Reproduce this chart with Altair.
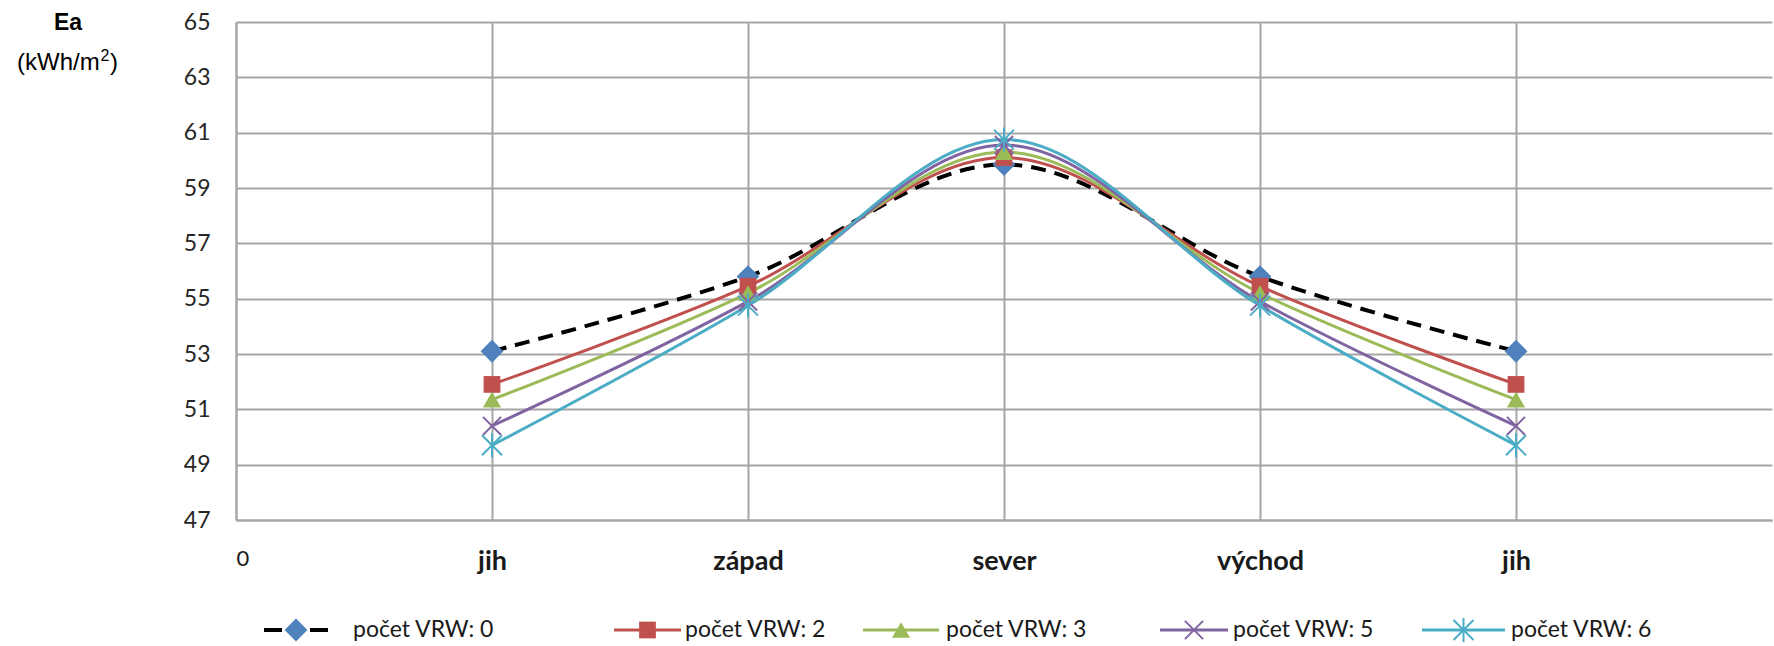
import json
import altair as alt
import pandas as pd

# ---- data ----
categories = ["jih", "západ", "sever", "východ", "jih"]
series_names = ["počet VRW: 0", "počet VRW: 2", "počet VRW: 3", "počet VRW: 5", "počet VRW: 6"]
vrw0 = [53.1, 55.8, 59.85, 55.8, 53.1]
vrw2 = [51.9, 55.45, 60.1, 55.45, 51.9]
vrw3 = [51.35, 55.2, 60.3, 55.2, 51.35]
vrw5 = [50.4, 54.9, 60.55, 54.9, 50.4]
vrw6 = [49.7, 54.75, 60.75, 54.75, 49.7]
series_values = [vrw0, vrw2, vrw3, vrw5, vrw6]
y_ticks = list(range(47, 66, 2))
x_tick_labels = ["0"] + categories

# ---- styles ----
line_colors = ["#000000", "#C0504D", "#9BBB59", "#8064A2", "#4BACC6"]
marker_colors = ["#4F81BD", "#C0504D", "#9BBB59", "#8064A2", "#4BACC6"]
x_path = "M-1,-1L1,1M-1,1L1,-1"
ast_path = "M-1,-1L1,1M-1,1L1,-1M0,-1.2L0,1.2"
marker_shapes = ["diamond", "square", "triangle-up", x_path, ast_path]
marker_sizes = [520, 280, 330, 330, 400]
marker_filled = [True, True, True, False, False]

rows = []
for name, vals in zip(series_names, series_values):
    for i, (c, v) in enumerate(zip(categories, vals)):
        rows.append({"series": name, "pos": i + 1, "category": c, "value": v})
df = pd.DataFrame(rows)
one = pd.DataFrame({"dummy": [0]})  # single row for annotation marks

FONT = "Lato"
label_expr = json.dumps(x_tick_labels) + "[datum.value]"

x_enc = alt.X(
    "pos:Q",
    scale=alt.Scale(domain=[0, 6], nice=False, zero=False),
    axis=alt.Axis(
        values=list(range(0, 6)),
        labelExpr=label_expr,
        title=None,
        ticks=False,
        grid=True,
        labelFont=FONT,
        labelFontSize={"condition": {"test": "datum.value == 0", "value": 22}, "value": 27},
        labelFontWeight={"condition": {"test": "datum.value == 0", "value": "normal"}, "value": "bold"},
        labelColor="#1a1a1a",
        labelPadding=28,
    ),
)
y_enc = alt.Y(
    "value:Q",
    scale=alt.Scale(domain=[47, 65], nice=False, zero=False),
    axis=alt.Axis(
        values=y_ticks,
        title=None,
        ticks=False,
        grid=True,
        labelFont=FONT,
        labelFontSize=23,
        labelColor="#262626",
        labelPadding=26,
    ),
)

layers = []
for k, name in enumerate(series_names):
    d = df[df["series"] == name]
    base = alt.Chart(d)
    if k == 0:
        line = base.mark_line(interpolate="catmull-rom", color=line_colors[k],
                              strokeWidth=4, strokeDash=[15, 9])
    else:
        line = base.mark_line(interpolate="catmull-rom", color=line_colors[k], strokeWidth=3)
    layers.append(line.encode(x=x_enc, y=y_enc))

for k, name in enumerate(series_names):
    d = df[df["series"] == name]
    base = alt.Chart(d)
    if marker_filled[k]:
        pt = base.mark_point(shape=marker_shapes[k], size=marker_sizes[k], filled=True,
                             color=marker_colors[k], opacity=1)
    else:
        pt = base.mark_point(shape=marker_shapes[k], size=marker_sizes[k], filled=False,
                             color=marker_colors[k], strokeWidth=2, opacity=1)
    layers.append(pt.encode(x=x_enc, y=y_enc))

# ---- y axis title: "Ea" and "(kWh/m2)" with a real superscript ----
TFONT = "Liberation Sans"
layers.append(alt.Chart(one).mark_text(text="Ea", font=TFONT, fontWeight="bold",
                                       fontSize=23, color="#000000")
              .encode(x=alt.value(-168), y=alt.value(1)))
unit_left = -219
layers.append(alt.Chart(one).mark_text(text="(kWh/m", font=TFONT, fontSize=24, align="left",
                                       color="#000000")
              .encode(x=alt.value(unit_left), y=alt.value(41)))
layers.append(alt.Chart(one).mark_text(text="2", font=TFONT, fontSize=16, align="left",
                                       color="#000000")
              .encode(x=alt.value(unit_left + 83.5), y=alt.value(34)))
layers.append(alt.Chart(one).mark_text(text=")", font=TFONT, fontSize=24, align="left",
                                       color="#000000")
              .encode(x=alt.value(unit_left + 93), y=alt.value(41)))

# ---- legend (layout positions relative to plot area) ----
legend_y = 608
legend_layout = [  # (line start, line end, text start)
    (28, 92, 117),
    (378, 445, 449),
    (627, 703, 710),
    (924, 992, 997),
    (1186, 1269, 1275),
]
for k, name in enumerate(series_names):
    a, b, t = legend_layout[k]
    m = (a + b) / 2
    if k == 0:
        rule = alt.Chart(one).mark_rule(color=line_colors[k], strokeWidth=4, strokeDash=[18, 28])
    else:
        rule = alt.Chart(one).mark_rule(color=line_colors[k], strokeWidth=3)
    layers.append(rule.encode(x=alt.value(a), x2=alt.value(b), y=alt.value(legend_y)))
    if marker_filled[k]:
        pt = alt.Chart(one).mark_point(shape=marker_shapes[k], size=marker_sizes[k], filled=True,
                                       color=marker_colors[k], opacity=1)
    else:
        pt = alt.Chart(one).mark_point(shape=marker_shapes[k], size=marker_sizes[k], filled=False,
                                       color=marker_colors[k], strokeWidth=2, opacity=1)
    layers.append(pt.encode(x=alt.value(m), y=alt.value(legend_y)))
    layers.append(alt.Chart(one).mark_text(text=name, font=FONT, fontSize=23, align="left",
                                           baseline="middle", color="#1a1a1a")
                  .encode(x=alt.value(t), y=alt.value(legend_y)))

chart = (
    alt.layer(*layers)
    .properties(
        width=1536,
        height=498,
        autosize=alt.AutoSizeParams(type="none"),
        padding={"left": 236, "top": 22, "right": 2, "bottom": 126},
        background="white",
    )
    .configure_view(stroke=None)
    .configure_axis(gridColor="#A6A6A6", gridWidth=2, domainColor="#A6A6A6", domainWidth=2)
)

chart.save("out.html", embed_options={"renderer": "svg", "actions": False})
